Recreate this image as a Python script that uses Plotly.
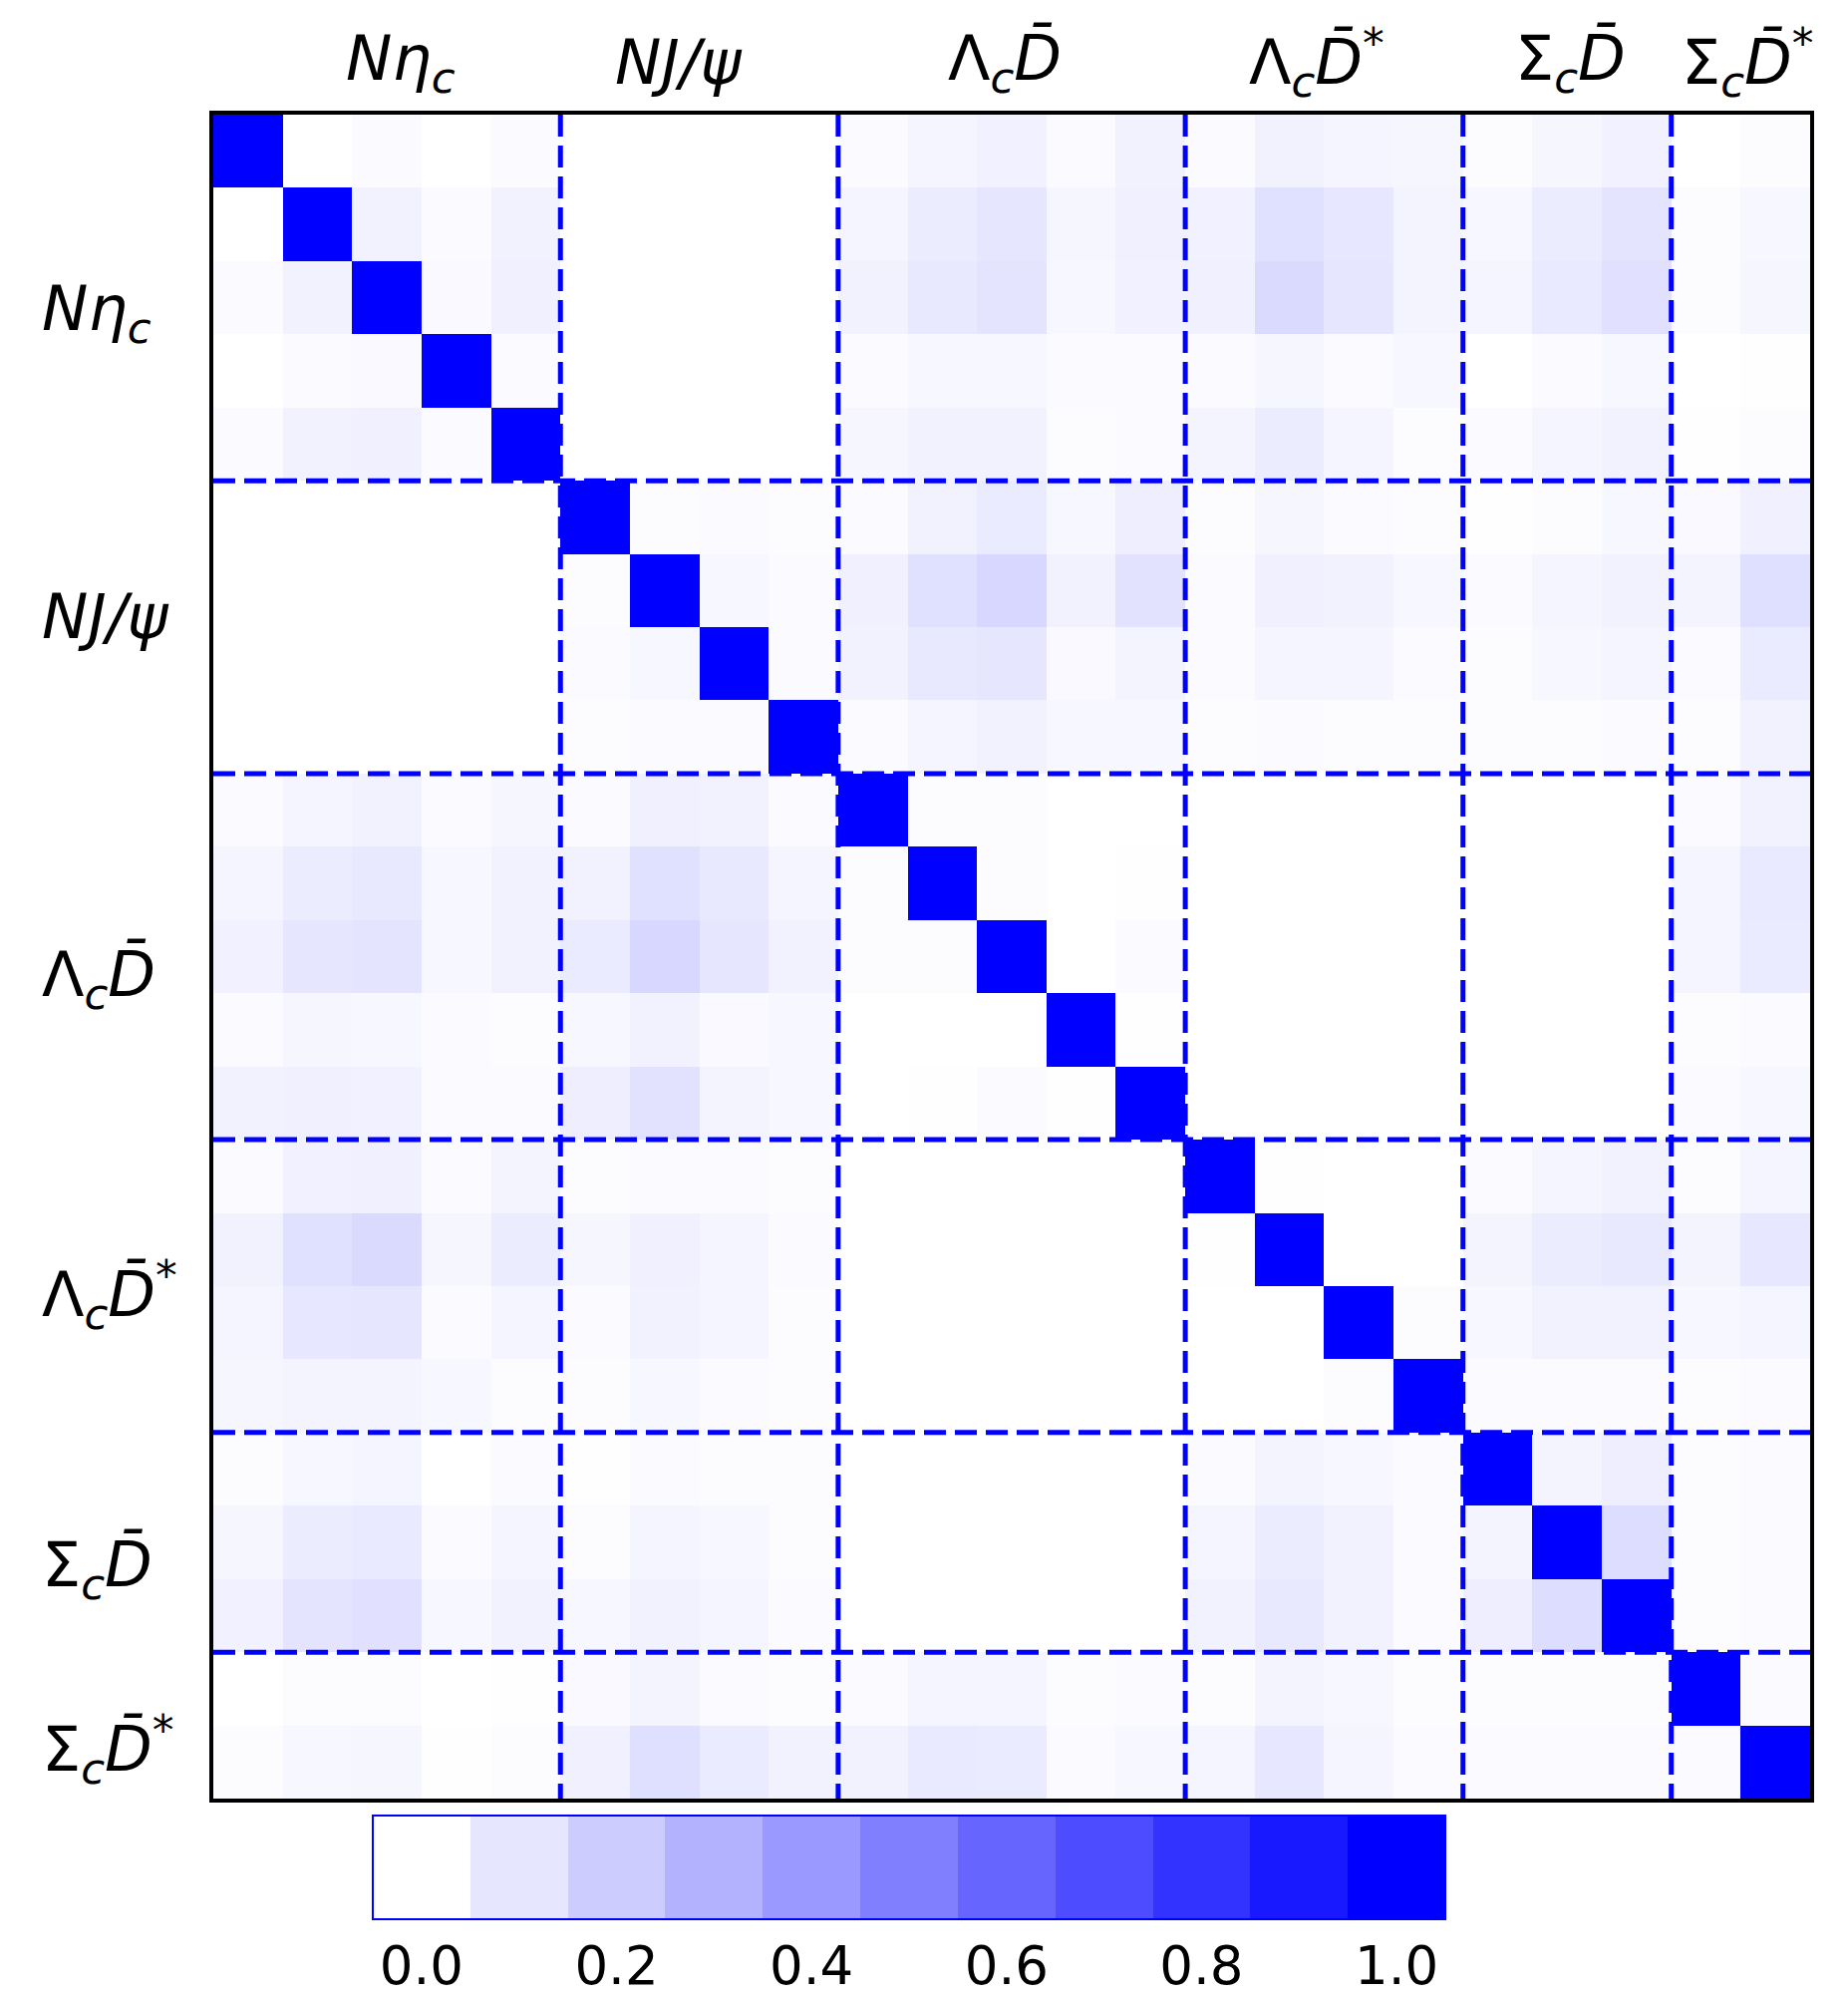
import plotly.graph_objects as go

# ---- data -------------------------------------------------------------
channels = ["Nηc", "NJ/ψ", "ΛcD̄", "ΛcD̄*", "ΣcD̄", "ΣcD̄*"]
channel_sizes = [5, 4, 5, 4, 3, 2]
label_html = [
    "<i>N</i><i>η</i><sub><i>c</i></sub>",
    "<i>NJ</i><i>/ψ</i>",
    "Λ<sub><i>c</i></sub><i>D\u0304</i>",
    "Λ<sub><i>c</i></sub><i>D\u0304</i><sup>*</sup>",
    "Σ<sub><i>c</i></sub><i>D\u0304</i>",
    "Σ<sub><i>c</i></sub><i>D\u0304</i><sup>*</sup>",
]
top_label_x = [2.2, 6.2, 10.9, 15.4, 19.05, 21.6]
left_label_y = [2.2, 6.35, 11.3, 15.62, 19.36, 21.83]

# upper triangle of the correlation matrix (row i, columns j > i)
upper = [
    [0.0, 0.015, 0.0, 0.02,  0, 0, 0, 0,  0.02, 0.04, 0.055, 0.017, 0.05,  0.02, 0.05, 0.04, 0.035,  0.01, 0.035, 0.055,  0.0, 0.012],
    [0.05, 0.015, 0.05,  0, 0, 0, 0,  0.04, 0.075, 0.1, 0.035, 0.06,  0.055, 0.12, 0.095, 0.045,  0.03, 0.075, 0.105,  0.01, 0.03],
    [0.025, 0.06,  0, 0, 0, 0,  0.05, 0.09, 0.105, 0.03, 0.055,  0.06, 0.145, 0.1, 0.045,  0.04, 0.085, 0.118,  0.01, 0.035],
    [0.02,  0, 0, 0, 0,  0.02, 0.03, 0.03, 0.015, 0.015,  0.02, 0.035, 0.015, 0.03,  0.0, 0.015, 0.03,  0.0, 0.005],
    [0, 0, 0, 0,  0.035, 0.05, 0.05, 0.012, 0.015,  0.045, 0.075, 0.04, 0.01,  0.02, 0.04, 0.05,  0.005, 0.01],
    [0.01, 0.015, 0.01,  0.02, 0.05, 0.08, 0.03, 0.065,  0.01, 0.035, 0.02, 0.01,  0.005, 0.01, 0.03,  0.025, 0.06],
    [0.03, 0.02,  0.06, 0.12, 0.158, 0.05, 0.112,  0.02, 0.06, 0.05, 0.03,  0.02, 0.04, 0.05,  0.045, 0.125],
    [0.015,  0.05, 0.09, 0.1, 0.025, 0.045,  0.02, 0.04, 0.04, 0.02,  0.01, 0.03, 0.04,  0.02, 0.08],
    [0.02, 0.04, 0.05, 0.03, 0.03,  0.01, 0.02, 0.01, 0.01,  0.01, 0.01, 0.02,  0.01, 0.05],
    [0.01, 0.01, 0.0, 0.0,  0, 0, 0, 0,  0, 0, 0,  0.02, 0.05],
    [0.01, 0.0, 0.005,  0, 0, 0, 0,  0, 0, 0,  0.04, 0.085],
    [0.0, 0.02,  0, 0, 0, 0,  0, 0, 0,  0.04, 0.08],
    [0.005,  0, 0, 0, 0,  0, 0, 0,  0.01, 0.02],
    [0, 0, 0, 0,  0, 0, 0,  0.015, 0.03],
    [0.003, 0.0, 0.0,  0.02, 0.04, 0.05,  0.012, 0.04],
    [0.0, 0.0,  0.045, 0.075, 0.09,  0.045, 0.095],
    [0.01,  0.03, 0.05, 0.05,  0.03, 0.04],
    [0.015, 0.02, 0.02,  0.01, 0.015],
    [0.045, 0.068,  0.012, 0.02],
    [0.132,  0.01, 0.02],
    [0.01, 0.015],
    [0.015],
    [],
]

colorbar_ticks = [0.0, 0.2, 0.4, 0.6, 0.8, 1.0]
colorbar_levels = [0.0, 0.1, 0.2, 0.3, 0.4, 0.5, 0.6, 0.7, 0.8, 0.9, 1.0]

# ---- build matrix -------------------------------------------------------
n = len(upper)
z = [[0.0] * n for _ in range(n)]
for i in range(n):
    z[i][i] = 1.0
    for k, v in enumerate(upper[i]):
        j = i + 1 + k
        z[i][j] = v
        z[j][i] = v

boundaries = []
acc = 0
for s in channel_sizes[:-1]:
    acc += s
    boundaries.append(acc - 0.5)

def blue(v):
    c = round(255 * (1 - v))
    return f"rgb({c},{c},255)"

nl = len(colorbar_levels)
disc_scale = []
for k, v in enumerate(colorbar_levels):
    disc_scale.append([k / nl, blue(v)])
    disc_scale.append([(k + 1) / nl, blue(v)])

fig = go.Figure()
fig.add_trace(go.Heatmap(
    z=z, x=list(range(n)), y=list(range(n)),
    colorscale=[[0, "#ffffff"], [1, "#0000ff"]], zmin=0, zmax=1,
    showscale=False, hoverongaps=False,
))

# discrete colour bar
fig.add_trace(go.Scatter(
    x=[None, None], y=[None, None], mode="markers", hoverinfo="skip",
    showlegend=False,
    marker=dict(
        color=[0, 1], colorscale=disc_scale, cmin=-0.05, cmax=1.05,
        showscale=True,
        colorbar=dict(
            orientation="h", lenmode="pixels", len=1076, thickness=104,
            x=0.4357, xanchor="center", y=-0.0100, yanchor="top", ypad=0, xpad=0,
            outlinecolor="#0000ff", outlinewidth=2,
            tickvals=colorbar_ticks, ticktext=[f"{t:.1f}" for t in colorbar_ticks],
            ticks="", tickfont=dict(family="DejaVu Sans", size=53, color="black"),
        ),
    ),
))

dash_line = dict(color="#0000ff", width=5, dash="22px,9px")
for b in boundaries:
    fig.add_shape(type="line", xref="x", yref="y", x0=b, x1=b, y0=-0.5, y1=n - 0.5, line=dash_line)
    fig.add_shape(type="line", xref="x", yref="y", x0=-0.5, x1=n - 0.5, y0=b, y1=b, line=dash_line)

lab_font = dict(family="DejaVu Sans", size=62, color="black")
for txt, xc in zip(label_html, top_label_x):
    fig.add_annotation(text=txt, x=xc, xref="x", y=1.0313, yref="paper",
                       xanchor="center", yanchor="middle", showarrow=False, font=lab_font)
for txt, yc in zip(label_html, left_label_y):
    fig.add_annotation(text=txt, x=-0.1086, xref="paper", y=yc, yref="y",
                       xanchor="left", yanchor="middle", showarrow=False, font=lab_font)

axis_common = dict(showgrid=False, zeroline=False, showticklabels=False, ticks="",
                   showline=True, mirror=True, linecolor="black", linewidth=4)
fig.update_xaxes(range=[-0.5, n - 0.5], **axis_common)
fig.update_yaxes(range=[n - 0.5, -0.5], **axis_common)

fig.update_layout(
    width=1846, height=1992,
    margin=dict(l=206, r=38, t=107, b=192),
    paper_bgcolor="white", plot_bgcolor="white",
    font=dict(family="DejaVu Sans"),
)

fig.write_html("out.html")
